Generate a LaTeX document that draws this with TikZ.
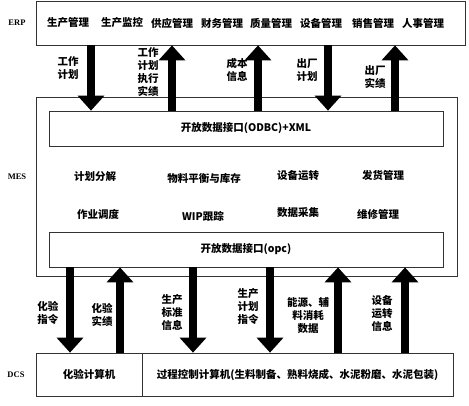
\documentclass[tikz,border=0pt]{standalone}
\usepackage{fontspec}
\setmainfont{Noto Sans CJK SC}
\newfontfamily\latinlab{Liberation Serif}
\usetikzlibrary{arrows.meta}
\begin{document}
\begin{tikzpicture}[x=1pt,y=-1pt,
  box/.style={draw=black!80,line width=0.7pt,inner sep=0pt,fill=white},
  txt/.style={font=\fontsize{10.5}{13}\selectfont\bfseries,inner sep=0pt,align=center},
  lay/.style={font=\latinlab\bfseries\fontsize{8.5}{10}\selectfont,inner sep=0pt},
  bigarrow/.style={line width=8pt,-{Triangle[width=26pt,length=15pt]}}]
\useasboundingbox[fill=white] (0,0) rectangle (469,405);
% boxes
\node[box,minimum width=429pt,minimum height=44pt] (erp) at (250.5,23) {};
\node[box,minimum width=421pt,minimum height=179pt] (mes) at (246.5,186.5) {};
\node[box,minimum width=394pt,minimum height=35pt] (odbc) at (246,128.5) {};
\node[box,minimum width=394pt,minimum height=35pt] (opc) at (246,249.5) {};
\node[box,minimum width=106pt,minimum height=43pt] (dcsa) at (89,374.5) {};
\node[box,minimum width=311pt,minimum height=43pt] (dcsb) at (297.5,374.5) {};
% layer labels
\node[lay] (lerp) at (17,23) {ERP};
\node[lay] (lmes) at (17,177) {MES};
\node[lay] (ldcs) at (16,375) {DCS};
% ERP items
\node[txt] (e1) at (68,23) {生产管理};
\node[txt] (e2) at (122,23) {生产监控};
\node[txt] (e3) at (172,23) {供应管理};
\node[txt] (e4) at (222,23) {财务管理};
\node[txt] (e5) at (271,23) {质量管理};
\node[txt] (e6) at (321,23) {设备管理};
\node[txt] (e7) at (373,23) {销售管理};
\node[txt] (e8) at (423,23) {人事管理};
% interfaces
\node[txt] (todbc) at (odbc) {开放数据接口(ODBC)+XML};
\node[txt] (topc) at (opc) {开放数据接口(opc)};
% MES items
\node[txt] (m1) at (95,177) {计划分解};
\node[txt] (m2) at (204,178) {物料平衡与库存};
\node[txt] (m3) at (298,176) {设备运转};
\node[txt] (m4) at (383,175) {发货管理};
\node[txt] (m5) at (98,214) {作业调度};
\node[txt] (m6) at (203,216) {WIP跟踪};
\node[txt] (m7) at (298,213) {数据采集};
\node[txt] (m8) at (378,214) {维修管理};
% DCS items
\node[txt] (d1) at (dcsa) {化验计算机};
\node[txt] (d2) at (dcsb) {过程控制计算机(生料制备、熟料烧成、水泥粉磨、水泥包装)};
% upper arrows
\draw[bigarrow] (erp.south -| 91,0) -- (odbc.north -| 91,0);
\draw[bigarrow] (odbc.north -| 172,0) -- (erp.south -| 172,0);
\draw[bigarrow] (odbc.north -| 258,0) -- (erp.south -| 258,0);
\draw[bigarrow] (erp.south -| 328,0) -- (odbc.north -| 328,0);
\draw[bigarrow] (odbc.north -| 395,0) -- (erp.south -| 395,0);
\node[txt] (a1) at (68,68) {工作\\计划};
\node[txt] (a2) at (148,72) {工作\\计划\\执行\\实绩};
\node[txt] (a3) at (237,70) {成本\\信息};
\node[txt] (a4) at (307,70) {出厂\\计划};
\node[txt] (a5) at (375,77) {出厂\\实绩};
% lower arrows
\draw[bigarrow] (opc.south -| 70,0) -- (dcsa.north -| 70,0);
\draw[bigarrow] (dcsa.north -| 120,0) -- (opc.south -| 120,0);
\draw[bigarrow] (opc.south -| 193,0) -- (dcsb.north -| 193,0);
\draw[bigarrow] (opc.south -| 270,0) -- (dcsb.north -| 270,0);
\draw[bigarrow] (dcsb.north -| 338,0) -- (opc.south -| 338,0);
\draw[bigarrow] (dcsb.north -| 405,0) -- (opc.south -| 405,0);
\node[txt] (b1) at (48,313) {化验\\指令};
\node[txt] (b2) at (102,315) {化验\\实绩};
\node[txt] (b3) at (172,312) {生产\\标准\\信息};
\node[txt] (b4) at (248,307) {生产\\计划\\指令};
\node[txt] (b5) at (308,315) {能源、辅\\料消耗\\数据};
\node[txt] (b6) at (382,313) {设备\\运转\\信息};
\end{tikzpicture}
\end{document}
